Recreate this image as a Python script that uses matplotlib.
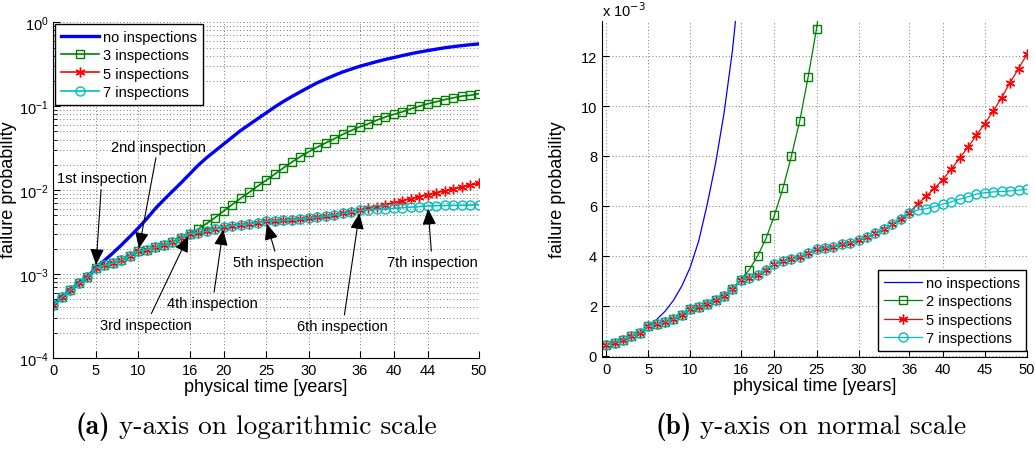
import matplotlib
matplotlib.use("Agg")
import matplotlib.pyplot as plt
from matplotlib.ticker import FixedLocator, FuncFormatter, LogLocator, NullFormatter

plt.rcParams['font.family'] = ['Liberation Sans', 'DejaVu Sans']

years = list(range(51))

# failure probability shared by every inspection plan, years 0..16
p_shared = [4.3e-4, 5.3e-4, 6.4e-4, 7.8e-4, 9.1e-4, 1.19e-3, 1.27e-3, 1.35e-3,
            1.47e-3, 1.65e-3, 1.87e-3, 1.96e-3, 2.08e-3, 2.24e-3, 2.40e-3,
            2.67e-3, 3.04e-3]
# 5 and 7 inspections, years 17..36
p_mid = [3.11e-3, 3.23e-3, 3.44e-3, 3.67e-3, 3.78e-3, 3.87e-3, 3.96e-3,
         4.11e-3, 4.27e-3, 4.32e-3, 4.36e-3, 4.46e-3, 4.53e-3, 4.64e-3,
         4.74e-3, 4.90e-3, 5.07e-3, 5.27e-3, 5.49e-3, 5.73e-3]
# few inspections, years 17..50
p_few_tail = [3.44e-3, 4.0e-3, 4.7e-3, 5.63e-3, 6.7e-3, 7.98e-3, 9.4e-3,
              1.116e-2, 1.31e-2, 0.0155, 0.0183, 0.0215, 0.025, 0.0286,
              0.0325, 0.0365, 0.0409, 0.0461, 0.0514, 0.0568, 0.0617, 0.0681,
              0.0745, 0.080, 0.0857, 0.0931, 0.100, 0.107, 0.113, 0.120,
              0.126, 0.132, 0.135, 0.141]
# years 37..50
p_5_tail = [6.07e-3, 6.38e-3, 6.70e-3, 7.05e-3, 7.47e-3, 7.90e-3, 8.36e-3,
            8.83e-3, 9.30e-3, 9.80e-3, 1.034e-2, 1.094e-2, 1.150e-2, 1.207e-2]
p_7_tail = [5.83e-3, 5.89e-3, 5.97e-3, 6.07e-3, 6.16e-3, 6.27e-3, 6.37e-3,
            6.47e-3, 6.53e-3, 6.56e-3, 6.58e-3, 6.60e-3, 6.63e-3, 6.67e-3]
p_none = [4.3e-4, 5.3e-4, 6.4e-4, 7.8e-4, 9.1e-4, 1.19e-3, 1.45e-3, 1.78e-3,
          2.22e-3, 2.80e-3, 3.55e-3, 4.6e-3, 6.05e-3, 7.7e-3, 9.7e-3,
          1.22e-2, 1.55e-2, 0.0197, 0.0243, 0.0293, 0.0353, 0.0426, 0.0513,
          0.0603, 0.0708, 0.0832, 0.0977, 0.1135, 0.130, 0.148, 0.168, 0.19,
          0.211, 0.233, 0.256, 0.277, 0.299, 0.319, 0.340, 0.361, 0.380,
          0.401, 0.422, 0.442, 0.460, 0.479, 0.497, 0.513, 0.527, 0.541,
          0.552]

p_few = p_shared + p_few_tail
p_5 = p_shared + p_mid + p_5_tail
p_7 = p_shared + p_mid + p_7_tail

xticks_log = [0, 5, 10, 16, 20, 25, 30, 36, 40, 44, 50]
xticks_lin = [0, 5, 10, 16, 20, 25, 30, 36, 40, 45, 50]
yticks_lin = [0, 2e-3, 4e-3, 6e-3, 8e-3, 10e-3, 12e-3]

labels_log = ['no inspections', '3 inspections', '5 inspections', '7 inspections']
labels_lin = ['no inspections', '2 inspections', '5 inspections', '7 inspections']

inspections = ['1st inspection', '2nd inspection', '3rd inspection', '4th inspection',
               '5th inspection', '6th inspection', '7th inspection']
inspection_years = [5, 10, 16, 20, 25, 36, 44]
# where each annotation text sits (year, probability)
text_pos = [(5.7, 1.38e-2), (12.3, 3.3e-2), (10.9, 2.5e-4), (18.7, 4.5e-4),
            (26.4, 1.38e-3), (34.0, 2.4e-4), (44.5, 1.38e-3)]

blue, green, red, cyan = '#0000ff', '#008000', '#ff0000', '#00bfbf'
asterisk = (6, 2, 0)
dots = (0, (1, 3))

fig = plt.figure(figsize=(10.35, 4.52), dpi=100)
ax1 = fig.add_axes([0.0515, 0.2058, 0.4113, 0.7427])
ax2 = fig.add_axes([0.5816, 0.208, 0.4106, 0.743])


def draw(ax, lw_main, lw, labels):
    ax.plot(years, p_none, color=blue, lw=lw_main, label=labels[0])
    ax.plot(years, p_few, color=green, lw=lw, marker='s', ms=5.5, mfc='none',
            mew=1.0, label=labels[1])
    ax.plot(years, p_5, color=red, lw=lw, marker=asterisk, ms=7, mew=1.0,
            label=labels[2])
    ax.plot(years, p_7, color=cyan, lw=lw, marker='o', ms=6.5, mfc='none',
            mew=1.0, label=labels[3])
    for s in ['top', 'right']:
        ax.spines[s].set_visible(False)
    for s in ['left', 'bottom']:
        ax.spines[s].set_linewidth(0.8)
    ax.tick_params(which='both', direction='in', labelsize=10.5, top=False, right=False)
    ax.tick_params(which='major', length=5)
    ax.tick_params(which='minor', length=3)
    ax.grid(True, which='major', linestyle=dots, color='0.3', lw=0.6)
    ax.set_xlabel('physical time [years]', fontsize=13, labelpad=1)
    ax.set_ylabel('failure probability', fontsize=13)


# (a) logarithmic axis
draw(ax1, 2.4, 1.2, labels_log)
ax1.set_yscale('log')
ax1.set_xlim(0, 50)
ax1.set_ylim(1e-4, 1)
ax1.set_xticks(xticks_log)
ax1.yaxis.set_major_locator(LogLocator(base=10, numticks=10))
ax1.yaxis.set_minor_locator(LogLocator(base=10, subs=range(2, 10), numticks=50))
ax1.yaxis.set_minor_formatter(NullFormatter())
ax1.yaxis.grid(True, which='minor', linestyle=dots, color='0.3', lw=0.6)
ax1.yaxis.set_label_coords(-0.085, 0.503)
leg = ax1.legend(loc='upper left', bbox_to_anchor=(0.004, 0.995), borderaxespad=0,
                 fontsize=10.5, fancybox=False, edgecolor='k', framealpha=1,
                 handlelength=2.6, handletextpad=0.3, labelspacing=0.3, borderpad=0.4)
leg.get_frame().set_linewidth(1.0)

for name, yr, pos in zip(inspections, inspection_years, text_pos):
    ax1.annotate(name, xy=(yr, p_7[yr]), xytext=pos, fontsize=10.5,
                 ha='center', va='center',
                 arrowprops=dict(arrowstyle='-|>,head_length=0.7,head_width=0.3',
                                 color='k', lw=0.8, shrinkA=1, shrinkB=2,
                                 mutation_scale=14))

# (b) linear axis
draw(ax2, 0.9, 0.9, labels_lin)
ax2.set_xlim(-0.5, 50)
ax2.set_ylim(-0.05e-3, 13.4e-3)
ax2.set_xticks(xticks_lin)
ax2.yaxis.set_major_locator(FixedLocator(yticks_lin))
ax2.yaxis.set_major_formatter(FuncFormatter(lambda v, _: f'{v * 1e3:g}'))
ax2.yaxis.set_label_coords(-0.085, 0.5)
ax2.text(0.0, 1.005, r'x 10$^{-3}$', transform=ax2.transAxes, fontsize=10.5,
         ha='left', va='bottom')
leg2 = ax2.legend(loc='lower right', bbox_to_anchor=(0.9976, 0.018), borderaxespad=0,
                  fontsize=10.5, fancybox=False, edgecolor='k', framealpha=1,
                  handlelength=2.6, handletextpad=0.3, labelspacing=0.3, borderpad=0.4)
leg2.get_frame().set_linewidth(1.0)

# sub-captions: bold tag followed by roman text
fig.canvas.draw()
renderer = fig.canvas.get_renderer()
for tag, caption, x0 in [('(a)', 'y-axis on logarithmic scale', 76),
                         ('(b)', 'y-axis on normal scale', 656)]:
    t = fig.text(x0 / 1035, 1 - 434 / 452, tag, family='cmb10', fontsize=19.7,
                 va='baseline', ha='left')
    bb = t.get_window_extent(renderer)
    fig.text((bb.x1 + 8) / 1035, 1 - 434 / 452, caption, family='cmr10',
             fontsize=19.7, va='baseline', ha='left')

fig.savefig('out.png', dpi=100)
